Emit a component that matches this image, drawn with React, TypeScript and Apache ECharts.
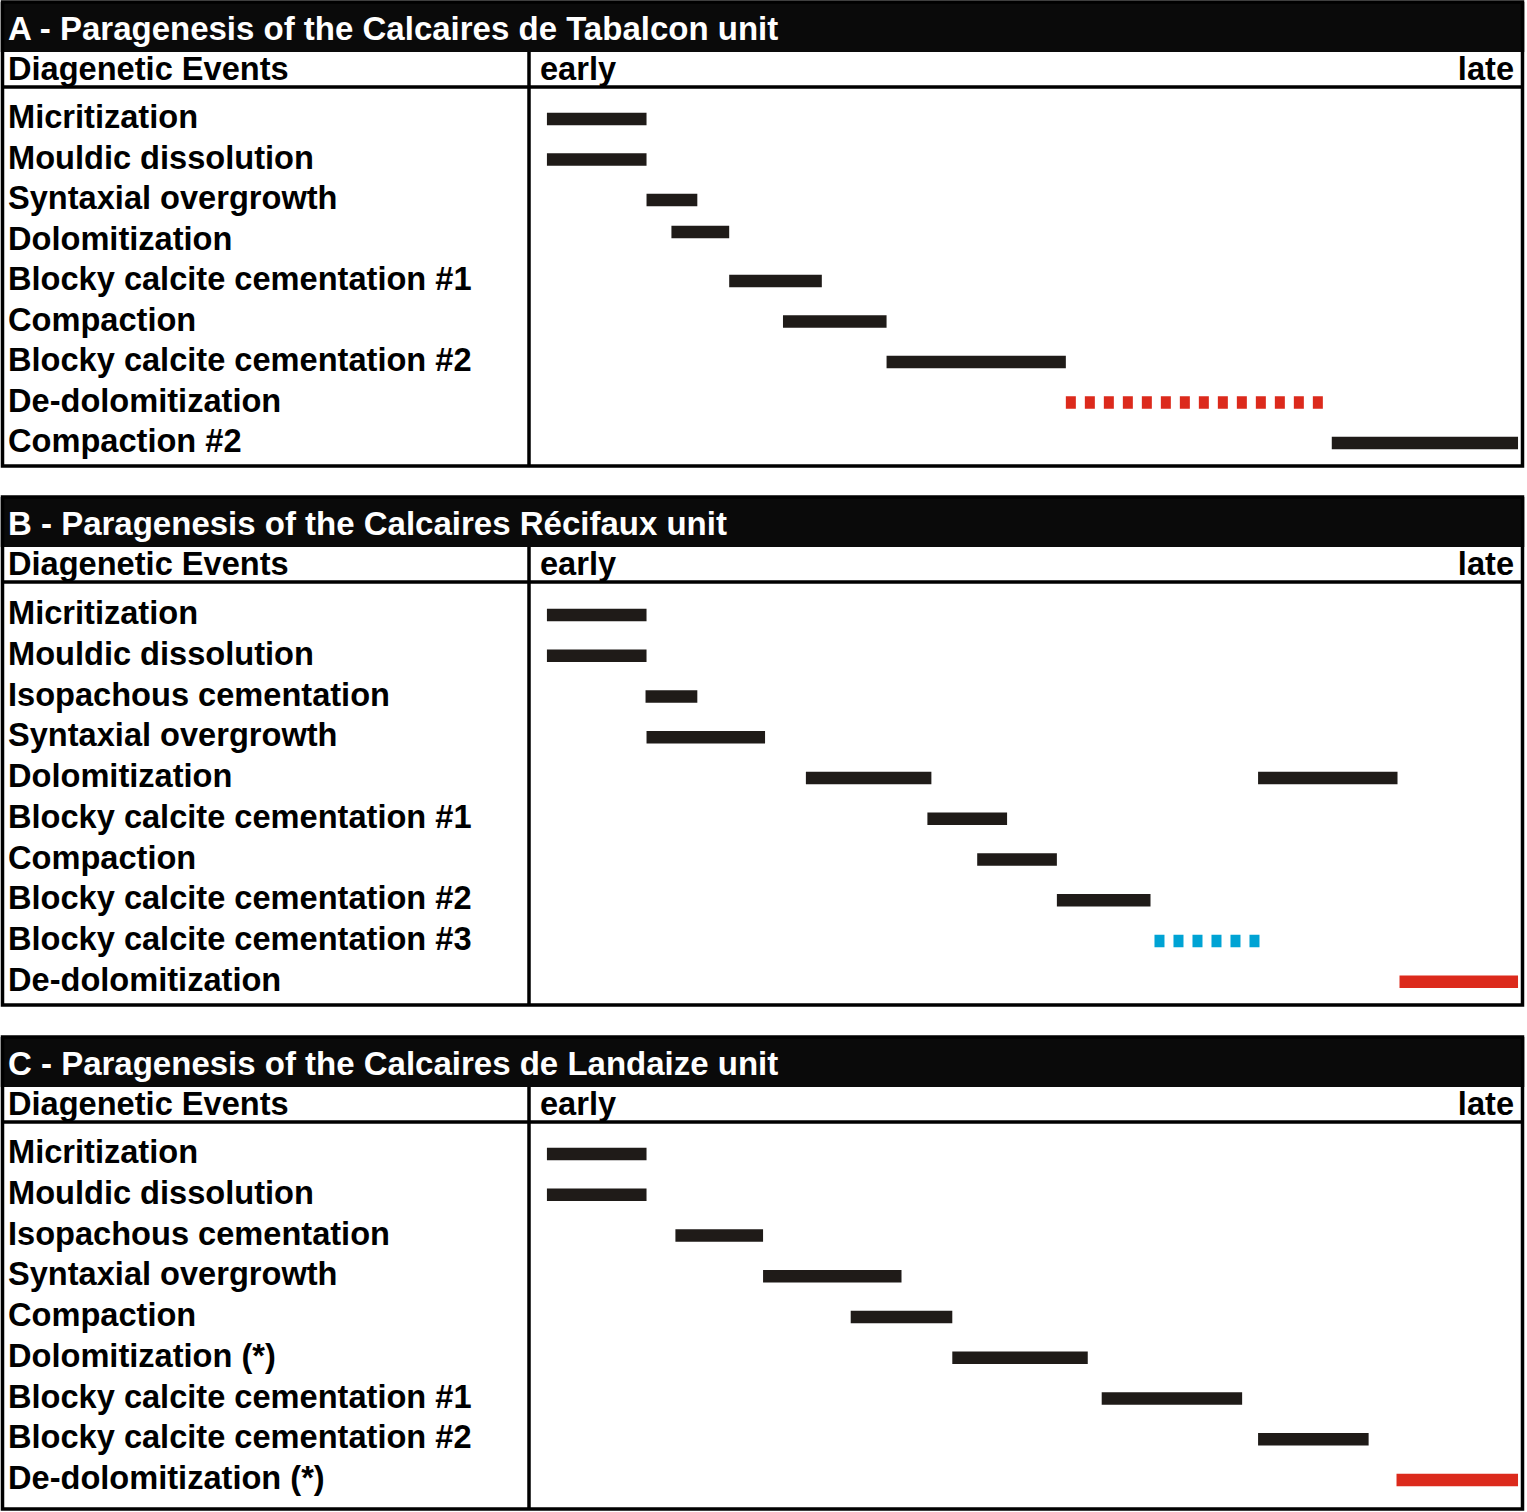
import React, { useEffect, useRef } from "react";
import * as echarts from "echarts";

// ---------- data ----------
const titles = [
  "A - Paragenesis of the Calcaires de Tabalcon unit",
  "B - Paragenesis of the Calcaires Récifaux unit",
  "C - Paragenesis of the Calcaires de Landaize unit",
];
const columnHeader = "Diagenetic Events";
const timeStart = "early";
const timeEnd = "late";

// relative time scale: 0 = early ... 100 = late
const aEvents = [
  "Micritization",
  "Mouldic dissolution",
  "Syntaxial overgrowth",
  "Dolomitization",
  "Blocky calcite cementation #1",
  "Compaction",
  "Blocky calcite cementation #2",
  "De-dolomitization",
  "Compaction #2",
];
// [row, start, end]
const aSolid = [
  [0, 1.8, 11.8],
  [1, 1.8, 11.8],
  [2, 11.8, 16.9],
  [2.79, 14.3, 20.1],
  [4, 20.1, 29.4],
  [5, 25.5, 35.9],
  [6, 35.9, 53.9],
  [8, 80.6, 99.3],
];
const aDashedRed = [[7, 53.9, 79.9]];

const bEvents = [
  "Micritization",
  "Mouldic dissolution",
  "Isopachous cementation",
  "Syntaxial overgrowth",
  "Dolomitization",
  "Blocky calcite cementation #1",
  "Compaction",
  "Blocky calcite cementation #2",
  "Blocky calcite cementation #3",
  "De-dolomitization",
];
const bSolid = [
  [0, 1.8, 11.8],
  [1, 1.8, 11.8],
  [2, 11.7, 16.9],
  [3, 11.8, 23.7],
  [4, 27.8, 40.4],
  [4, 73.2, 87.2],
  [5, 40.0, 48.0],
  [6, 45.0, 53.0],
  [7, 53.0, 62.4],
];
const bDashedBlue = [[8, 62.8, 73.8]];
const bSolidRed = [[9, 87.4, 99.3]];

const cEvents = [
  "Micritization",
  "Mouldic dissolution",
  "Isopachous cementation",
  "Syntaxial overgrowth",
  "Compaction",
  "Dolomitization (*)",
  "Blocky calcite cementation #1",
  "Blocky calcite cementation #2",
  "De-dolomitization (*)",
];
const cSolid = [
  [0, 1.8, 11.8],
  [1, 1.8, 11.8],
  [2, 14.7, 23.5],
  [3, 23.5, 37.4],
  [4, 32.3, 42.5],
  [5, 42.5, 56.1],
  [6, 57.5, 71.6],
  [7, 73.2, 84.3],
];
const cSolidRed = [[8, 87.1, 99.3]];

// ---------- styles / layout ----------
const FONT = '"Liberation Sans", Arial, Helvetica, sans-serif';
const FS = 32.6;
const FS_TITLE = 33;
const BLACK = "#1f1b18";
const RED = "#dc2a1c";
const BLUE = "#00a3d4";
const BAR_H = 12.5;
const W = 1527;
const H = 1512;
const DIV_X = 529;
const RIGHT_X = 1522.5;
const LEFT_X = 2.5;
const BORDER = 3.5;

const panels = [
  { top: 2, bottom: 466, row0: 119, step: 40.5, events: aEvents, title: titles[0],
    series: [{ data: aSolid, color: BLACK, dashed: false }, { data: aDashedRed, color: RED, dashed: true }] },
  { top: 497, bottom: 1005, row0: 615, step: 40.75, events: bEvents, title: titles[1],
    series: [{ data: bSolid, color: BLACK, dashed: false }, { data: bDashedBlue, color: BLUE, dashed: true }, { data: bSolidRed, color: RED, dashed: false }] },
  { top: 1037, bottom: 1509, row0: 1154, step: 40.75, events: cEvents, title: titles[2],
    series: [{ data: cSolid, color: BLACK, dashed: false }, { data: cSolidRed, color: RED, dashed: false }] },
];

function makeRender(color: string, dashed: boolean) {
  return (params: any, api: any) => {
    const row = api.value(0);
    const p0 = api.coord([api.value(1), row]);
    const p1 = api.coord([api.value(2), row]);
    if (dashed) {
      return {
        type: "line",
        shape: { x1: p0[0], y1: p0[1], x2: p1[0], y2: p1[1] },
        style: { stroke: color, lineWidth: BAR_H, lineDash: [10, 9], lineCap: "butt" },
      };
    }
    return {
      type: "rect",
      shape: { x: p0[0], y: p0[1] - BAR_H / 2, width: p1[0] - p0[0], height: BAR_H },
      style: { fill: color },
    };
  };
}

export default function App() {
  const ref = useRef<HTMLDivElement>(null);
  useEffect(() => {
    if (!ref.current) return;
    const chart = echarts.init(ref.current, null, { renderer: "svg" });

    const grids: any[] = [];
    const xAxes: any[] = [];
    const yAxes: any[] = [];
    const series: any[] = [];
    const graphics: any[] = [];

    panels.forEach((p, k) => {
      const n = p.events.length;
      grids.push({
        left: DIV_X,
        width: 996,
        top: p.row0 - p.step / 2,
        height: p.step * n,
        containLabel: false,
      });
      xAxes.push({
        gridIndex: k, type: "value", min: 0, max: 100, show: false,
      });
      yAxes.push({
        gridIndex: k,
        type: "value",
        inverse: true,
        min: -0.5,
        max: n - 0.5,
        interval: 0.5,
        axisLine: { show: false },
        axisTick: { show: false },
        splitLine: { show: false },
        axisLabel: {
          formatter: (v: number) => {
            const r = Math.round(v);
            return Math.abs(v - r) < 1e-6 && r >= 0 && r < n ? p.events[r] : "";
          },
          align: "left",
          verticalAlign: "bottom",
          lineHeight: 5,
          margin: DIV_X - 8,
          fontSize: FS,
          fontWeight: "bold",
          fontFamily: FONT,
          color: "#000",
        },
      });
      p.series.forEach((s) => {
        series.push({
          type: "custom",
          xAxisIndex: k,
          yAxisIndex: k,
          encode: { x: [1, 2], y: 0 },
          data: s.data,
          renderItem: makeRender(s.color, s.dashed),
          silent: true,
        });
      });

      // frame & header decorations
      graphics.push({
        type: "rect",
        shape: { x: LEFT_X - BORDER / 2, y: p.top, width: RIGHT_X - LEFT_X + BORDER, height: 50 },
        style: { fill: "#0a0a0a" },
      });
      graphics.push({
        type: "rect",
        shape: { x: LEFT_X, y: p.top, width: RIGHT_X - LEFT_X, height: p.bottom - p.top },
        style: { fill: "none", stroke: "#000", lineWidth: BORDER },
      });
      graphics.push({
        type: "line",
        shape: { x1: LEFT_X, y1: p.top + 85, x2: RIGHT_X, y2: p.top + 85 },
        style: { stroke: "#000", lineWidth: BORDER },
      });
      graphics.push({
        type: "line",
        shape: { x1: DIV_X, y1: p.top + 50, x2: DIV_X, y2: p.bottom },
        style: { stroke: "#000", lineWidth: BORDER },
      });
      graphics.push({
        type: "text",
        x: 8,
        y: p.top + 26,
        style: { text: p.title, fill: "#fff", font: `bold ${FS_TITLE}px ${FONT}`, verticalAlign: "middle", align: "left" },
      });
      graphics.push({
        type: "text",
        x: 8,
        y: p.top + 66,
        style: { text: columnHeader, fill: "#000", font: `bold ${FS}px ${FONT}`, verticalAlign: "middle", align: "left" },
      });
      graphics.push({
        type: "text",
        x: 540,
        y: p.top + 66,
        style: { text: timeStart, fill: "#000", font: `bold ${FS}px ${FONT}`, verticalAlign: "middle", align: "left" },
      });
      graphics.push({
        type: "text",
        x: 1514,
        y: p.top + 66,
        style: { text: timeEnd, fill: "#000", font: `bold ${FS}px ${FONT}`, verticalAlign: "middle", align: "right" },
      });
    });

    chart.setOption({
      animation: false,
      backgroundColor: "#fff",
      grid: grids,
      xAxis: xAxes,
      yAxis: yAxes,
      series,
      graphic: { elements: graphics },
    });
    return () => chart.dispose();
  }, []);

  return (
    <div
      ref={ref}
      style={{ position: "absolute", left: 0, top: 0, width: W, height: H }}
    />
  );
}
